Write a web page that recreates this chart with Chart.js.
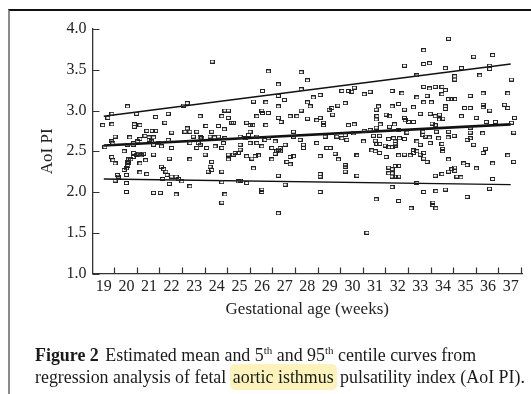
<!DOCTYPE html>
<html>
<head>
<meta charset="utf-8">
<script src="https://cdn.jsdelivr.net/npm/chart.js@4"></script>
<style>
  body { margin: 0; background: #fff; width: 531px; height: 394px; overflow: hidden; position: relative; font-family: "Liberation Serif", "Times New Roman", serif; }
  #frame { position: absolute; left: 8px; top: 9px; right: 0; bottom: 0; border-top: 2px solid #111; border-left: 2px solid #8a8a8a; pointer-events: none; }
  #wrap { position: absolute; left: 0; top: 0; width: 531px; height: 324px; }
  #caption { position: absolute; left: 35px; top: 344px; font-size: 17.9px; line-height: 22px; color: #1a1a1a; white-space: nowrap; }
  #caption b { margin-right: 2px; }
  #caption sup { font-size: 11px; line-height: 0; vertical-align: 7px; }
  .hl { background: #fbf3b9; border-radius: 5px; padding: 3px 3px; margin: 0 -1px; }
</style>
</head>
<body>
<div id="wrap"><canvas id="aoiChart" width="531" height="324"></canvas></div>
<div id="frame"></div>
<div id="caption"><b>Figure 2</b> Estimated mean and 5<sup>th</sup> and 95<sup>th</sup> centile curves from<br>regression analysis of fetal <span class="hl">aortic isthmus</span> pulsatility index (AoI PI).</div>
<script>
const weekTicks = [19, 20, 21, 22, 23, 24, 25, 26, 27, 28, 29, 30, 31, 32, 33, 34, 35, 36, 37];
const piTicks = [1.0, 1.5, 2.0, 2.5, 3.0, 3.5, 4.0];

// regression curves, read at both ends of the range
const centileWeeks = [19, 37];
const centile95 = [2.93, 3.57];
const meanPI = [2.57, 2.83];
const centile5 = [2.16, 2.09];

// individual measurements: gestational age (weeks) and AoI PI
const gaWeeks = [
  20.05, 19.36, 19.18, 20.45, 21.29, 21.85, 18.95, 19.36, 20.35, 20.35,
  20.6, 21.7, 19.5, 20.15, 20.9, 21.14, 21.29, 21.0, 21.2, 22.0,
  19.05, 19.35, 19.4, 20.04, 20.3, 20.32, 20.5, 20.6, 20.82, 21.0,
  21.1, 21.2, 21.4, 21.55, 21.85, 22.0, 19.35, 19.4, 19.5, 19.9,
  20.05, 20.1, 20.08, 20.06, 20.0, 20.2, 20.3, 20.32, 20.45, 20.6,
  20.55, 20.65, 20.76, 20.85, 21.2, 21.55, 21.65, 21.75, 21.8, 22.0,
  21.9, 19.9, 19.6, 19.65, 19.5, 20.0, 20.6, 20.9, 20.0, 20.0,
  21.2, 21.5, 21.6, 21.9, 22.2, 22.2, 22.3,
  22.59, 22.81, 23.11, 23.33, 23.70, 23.77, 24.07, 24.36, 25.03, 25.25,
  25.40, 25.47, 25.77, 26.28, 27.39, 27.39, 27.68, 28.79, 29.31, 29.53,
  29.68, 29.75, 30.05, 22.96, 23.26, 23.9,
  22.81, 23.18, 23.26, 23.11, 23.55, 23.92, 24.22, 24.29, 25.03, 25.03,
  25.47, 25.77, 25.99, 26.13, 26.43, 26.58, 26.8, 26.8, 26.58, 27.02,
  27.83, 27.83, 28.42, 28.87, 29.01, 29.23, 29.38, 30.2, 23.48, 22.81,
  23.77, 24.51, 24.51, 24.73, 24.81, 24.95, 25.32, 25.55, 25.69, 25.84,
  26.43, 26.65, 26.72, 27.1, 27.24, 27.24, 27.39, 28.57, 29.68, 29.68,
  29.68, 23.70, 23.77, 23.62, 24.22, 25.62, 26.72, 28.57, 28.57, 22.45,
  22.81, 24.22, 24.95, 25.03, 25.32, 25.99, 25.99, 27.02, 28.57, 24.36,
  24.22, 26.72,
  23.80, 26.28, 27.73, 28.01, 26.72, 26.02, 27.73, 28.27, 28.57, 29.53,
  29.82, 29.97, 30.08, 22.52, 22.69, 25.62, 26.17, 26.72, 26.99, 26.72,
  28.01, 28.13, 29.35, 29.68, 28.97, 29.09, 23.26, 24.36, 24.51, 24.22,
  24.51, 24.66, 24.73, 25.77, 25.99, 26.02, 26.28, 26.72, 26.84, 26.17,
  27.24, 27.54, 27.73, 28.01, 28.42, 28.57, 28.72, 28.72, 29.12, 29.82,
  30.08, 22.69, 23.52, 24.07, 24.33, 25.32, 25.47, 25.59,
  34.25, 33.15, 35.36, 36.2, 32.30, 33.15, 33.41, 34.11, 34.82, 36.07,
  36.07, 32.85, 34.52, 34.52, 35.63, 37.03, 30.52, 30.78, 31.75, 32.19,
  33.15, 33.41, 33.66, 33.96, 34.11, 33.96, 32.85, 33.30, 34.25, 34.37,
  34.52, 35.21, 35.78, 36.87, 33.15, 33.49, 31.15, 31.05, 31.75, 32.04,
  32.70, 32.30, 34.11, 34.11, 34.96, 35.21, 35.78, 35.78, 36.07, 36.73,
  36.87, 31.49, 31.64, 33.0, 33.44, 33.66, 33.85, 34.0, 34.82, 35.48,
  37.17, 31.08, 31.05, 31.05, 31.23, 31.64, 31.86, 32.30, 32.33, 32.48,
  32.70, 33.52, 33.66, 33.85, 35.92, 36.32, 37.03, 30.52, 30.78, 32.04,
  32.41, 33.12, 35.21,
  30.93, 31.20, 31.60, 31.82, 31.89, 32.08, 32.30, 30.49, 31.01, 31.08,
  31.20, 31.45, 31.60, 31.75, 31.89, 31.89, 32.85, 33.00, 33.12, 33.22,
  33.40, 33.44, 33.71, 33.81, 33.96, 33.99, 33.99, 34.25, 34.23, 34.50,
  35.07, 35.21, 35.36, 35.21, 35.76, 37.13, 30.86, 31.01, 31.20, 31.49,
  30.20, 32.04, 32.30, 32.56, 32.70, 32.70, 32.85, 33.00, 33.15, 33.30,
  33.15, 34.25, 34.92, 35.07, 35.48, 35.88, 35.78, 36.20, 36.87, 37.13,
  31.60, 31.75, 31.89, 32.04, 31.60, 31.75, 31.75, 31.89, 32.04, 30.20,
  33.66, 33.96, 34.25, 34.40, 34.52, 34.52, 34.62, 34.80, 36.20, 32.85,
  31.75, 33.15, 33.69, 34.11, 36.06, 31.05, 32.04, 32.59, 33.56, 33.56,
  33.69, 35.07, 30.64
];
const aoiPI = [
  3.05, 2.96, 2.91, 2.96, 2.92, 2.96, 2.82, 2.83, 2.83, 2.80,
  2.82, 2.85, 2.68, 2.67, 2.75, 2.75, 2.75, 2.67, 2.67, 2.73,
  2.55, 2.62, 2.60, 2.58, 2.58, 2.60, 2.62, 2.65, 2.69, 2.64,
  2.62, 2.58, 2.60, 2.56, 2.64, 2.54, 2.43, 2.39, 2.35, 2.50,
  2.37, 2.40, 2.35, 2.32, 2.29, 2.40, 2.43, 2.48, 2.46, 2.35,
  2.47, 2.45, 2.47, 2.39, 2.46, 2.31, 2.28, 2.25, 2.21, 2.19,
  2.41, 2.27, 2.21, 2.19, 2.14, 2.21, 2.24, 2.22, 2.11, 2.00,
  1.99, 1.99, 2.16, 2.10, 1.97, 2.19, 2.16,
  2.74, 2.74, 2.74, 2.66, 2.68, 2.74, 2.68, 2.66, 2.68, 2.66,
  2.70, 2.74, 2.68, 2.66, 2.74, 2.68, 2.64, 2.68, 2.68, 2.66,
  2.70, 2.64, 2.72, 2.68, 2.67, 2.67,
  2.60, 2.60, 2.58, 2.54, 2.54, 2.56, 2.54, 2.60, 2.58, 2.52,
  2.60, 2.60, 2.56, 2.64, 2.54, 2.62, 2.54, 2.50, 2.47, 2.58,
  2.58, 2.54, 2.60, 2.54, 2.54, 2.47, 2.40, 2.45, 2.46, 2.40,
  2.37, 2.46, 2.40, 2.46, 2.48, 2.48, 2.44, 2.41, 2.44, 2.45,
  2.40, 2.50, 2.52, 2.37, 2.43, 2.34, 2.44, 2.44, 2.33, 2.31,
  2.25, 2.31, 2.27, 2.25, 2.25, 2.29, 2.20, 2.22, 2.19, 2.13,
  2.07, 2.12, 2.13, 2.14, 2.11, 2.03, 2.00, 2.09, 2.00, 1.97,
  1.87, 1.74,
  3.60, 3.48, 3.47, 3.37, 3.32, 3.24, 3.26, 3.16, 3.19, 3.24,
  3.24, 3.23, 3.28, 3.06, 3.09, 3.11, 3.10, 3.18, 3.13, 3.05,
  3.10, 3.05, 3.06, 3.09, 3.01, 3.03, 2.93, 3.00, 3.00, 2.93,
  2.91, 2.85, 2.85, 2.93, 3.00, 2.97, 2.97, 2.91, 2.86, 2.82,
  2.93, 2.93, 3.00, 2.90, 2.88, 2.91, 2.85, 2.82, 2.95, 2.82,
  2.83, 2.78, 2.81, 2.81, 2.77, 2.85, 2.82, 2.82,
  3.88, 3.74, 3.66, 3.68, 3.55, 3.57, 3.58, 3.52, 3.52, 3.55,
  3.51, 3.43, 3.42, 3.38, 3.43, 3.38, 3.20, 3.23, 3.24, 3.21,
  3.29, 3.27, 3.29, 3.29, 3.25, 3.20, 3.16, 3.18, 3.14, 3.14,
  3.14, 3.18, 3.21, 3.21, 3.10, 3.10, 3.05, 3.01, 3.05, 3.08,
  3.04, 3.01, 3.05, 3.02, 3.03, 3.03, 3.07, 3.04, 3.00, 3.07,
  3.03, 2.95, 2.93, 2.96, 2.96, 2.93, 2.95, 2.90, 2.93, 2.91,
  2.91, 2.93, 2.89, 2.79, 2.83, 2.80, 2.83, 2.91, 2.88, 2.86,
  2.86, 2.84, 2.82, 2.89, 2.86, 2.86, 2.85, 2.75, 2.76, 2.76,
  2.73, 2.74, 2.79,
  2.69, 2.69, 2.65, 2.66, 2.62, 2.66, 2.65, 2.62, 2.63, 2.59,
  2.59, 2.57, 2.55, 2.55, 2.59, 2.57, 2.62, 2.58, 2.70, 2.68,
  2.67, 2.60, 2.74, 2.66, 2.59, 2.53, 2.50, 2.74, 2.67, 2.69,
  2.64, 2.66, 2.58, 2.73, 2.72, 2.73, 2.51, 2.50, 2.48, 2.43,
  2.45, 2.45, 2.46, 2.45, 2.51, 2.48, 2.50, 2.46, 2.48, 2.37,
  2.41, 2.40, 2.35, 2.33, 2.29, 2.53, 2.48, 2.35, 2.45, 2.37,
  2.30, 2.28, 2.32, 2.32, 2.23, 2.23, 2.19, 2.19, 2.19, 2.20,
  2.20, 2.22, 2.25, 2.28, 2.30, 2.26, 2.19, 2.18, 2.16, 2.11,
  2.06, 2.00, 2.01, 2.03, 2.04, 1.91, 1.89, 1.80, 1.87, 1.84,
  1.80, 1.94, 1.50
];

function toPoints(xs, ys) {
  return xs.map(function (x, i) { return { x: x, y: ys[i] }; });
}

// tick marks pointing into the plot, placed through the chart's own scales
const innerTicks = {
  id: "innerTicks",
  afterDatasetsDraw: function (chart) {
    const x = chart.scales.x;
    const y = chart.scales.y;
    const c = chart.ctx;
    c.save();
    c.strokeStyle = "#333";
    c.lineWidth = 1.2;
    c.beginPath();
    weekTicks.forEach(function (w) {
      const px = Math.round(x.getPixelForValue(w + 0.5)) - 0.5;
      c.moveTo(px, y.bottom);
      c.lineTo(px, y.bottom - 6);
    });
    piTicks.forEach(function (v) {
      const py = Math.round(y.getPixelForValue(v)) + 0.5;
      c.moveTo(x.left, py);
      c.lineTo(x.left + 7, py);
    });
    c.stroke();
    c.restore();
  }
};

document.addEventListener("DOMContentLoaded", function () {
  const canvas = document.getElementById("aoiChart");
  if (!canvas) return;
  const ctx = canvas.getContext("2d");

  // small open box used as the marker
  const box = document.createElement("canvas");
  box.width = 5;
  box.height = 4;
  const bctx = box.getContext("2d");
  bctx.strokeStyle = "#222";
  bctx.lineWidth = 1;
  bctx.strokeRect(0.5, 0.5, 4, 3);

  const serif = "'Liberation Serif', 'Times New Roman', serif";

  function curve(label, ys, width) {
    return {
      type: "line",
      label: label,
      data: toPoints(centileWeeks, ys),
      borderColor: "#111",
      borderWidth: width,
      pointRadius: 0,
      fill: false,
      tension: 0
    };
  }

  new Chart(ctx, {
    type: "scatter",
    data: {
      datasets: [
        {
          label: "AoI PI",
          data: toPoints(gaWeeks, aoiPI),
          pointStyle: box,
          pointRadius: 3,
          borderColor: "#222",
          backgroundColor: "rgba(0,0,0,0)"
        },
        curve("95th centile", centile95, 1.4),
        curve("Mean", meanPI, 2.6),
        curve("5th centile", centile5, 1.4)
      ]
    },
    plugins: [innerTicks],
    options: {
      responsive: false,
      animation: false,
      layout: { padding: { top: 29, right: 9, left: 0, bottom: 0 } },
      plugins: {
        legend: { display: false },
        tooltip: { enabled: false }
      },
      scales: {
        x: {
          type: "linear",
          min: 18.5,
          max: 37.5,
          afterBuildTicks: function (scale) {
            scale.ticks = weekTicks.map(function (v) { return { value: v }; });
          },
          afterFit: function (scale) { scale.height = 50.5; },
          ticks: { color: "#222", font: { family: serif, size: 16 }, padding: 4, maxRotation: 0, autoSkip: false },
          grid: { drawOnChartArea: false, drawTicks: false },
          border: { color: "#333", width: 1.3 },
          title: {
            display: true,
            text: "Gestational age (weeks)",
            color: "#222",
            font: { family: serif, size: 17 },
            padding: { top: 0, bottom: 4 }
          }
        },
        y: {
          min: 1,
          max: 4,
          afterBuildTicks: function (scale) {
            scale.ticks = piTicks.map(function (v) { return { value: v }; });
          },
          afterFit: function (scale) { scale.width = 92.5; },
          ticks: {
            color: "#222",
            font: { family: serif, size: 16 },
            padding: 6,
            callback: function (v) { return Number(v).toFixed(1); }
          },
          grid: { drawOnChartArea: false, drawTicks: false },
          border: { color: "#333", width: 1.3 },
          title: {
            display: true,
            text: "AoI PI",
            color: "#222",
            font: { family: serif, size: 17 },
            padding: { top: 37, bottom: 0 }
          }
        }
      }
    }
  });
});
</script>
</body>
</html>
